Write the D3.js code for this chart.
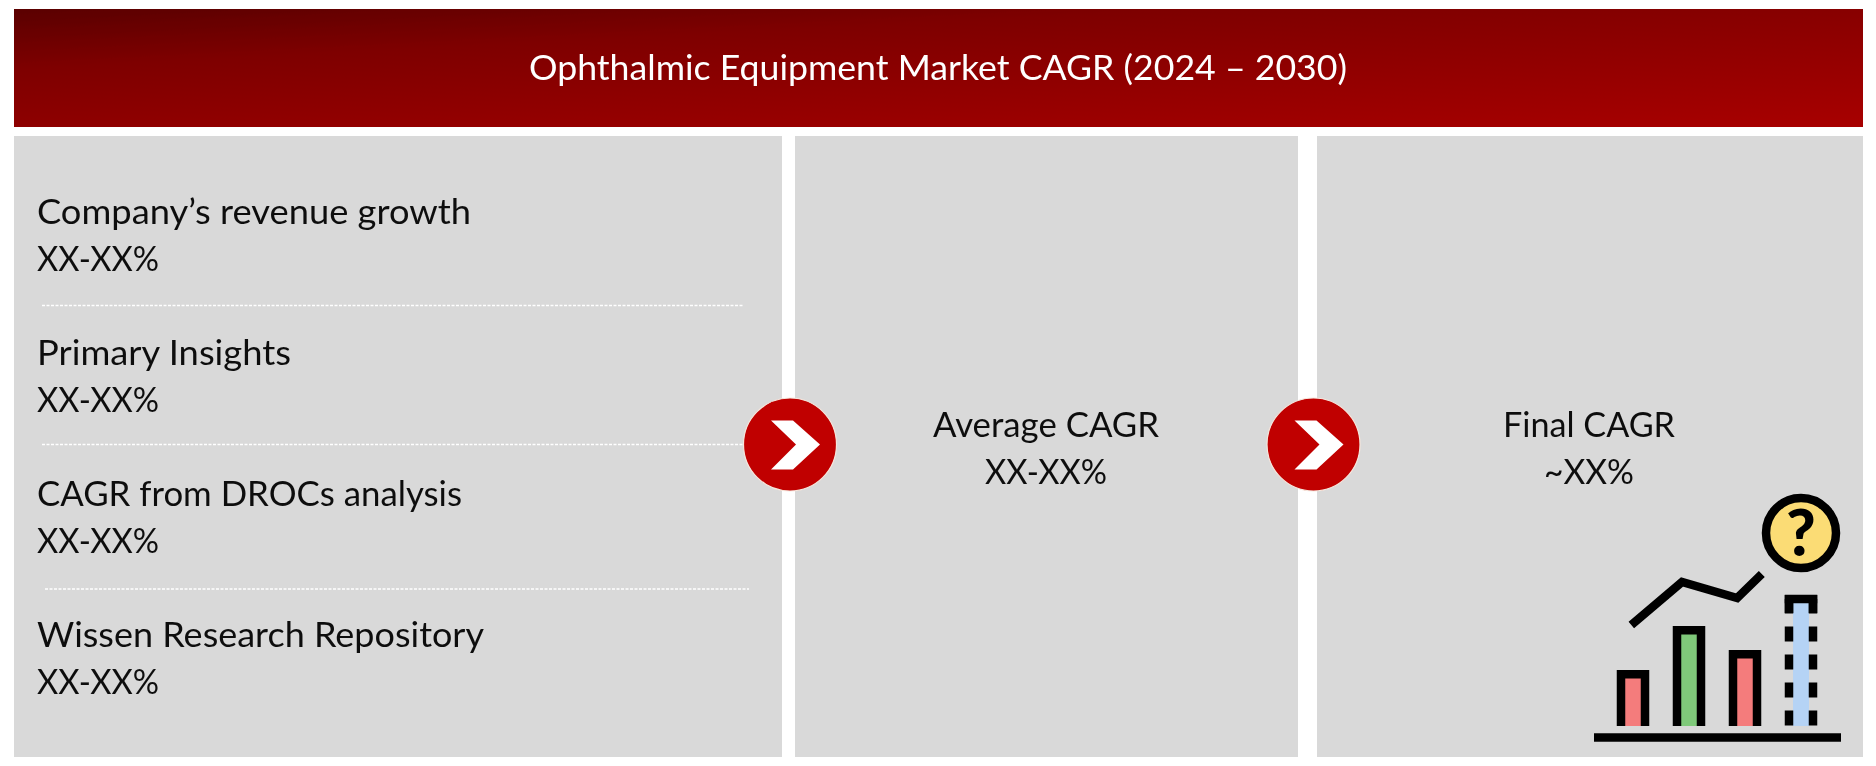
<!DOCTYPE html>
<html><head><meta charset="utf-8">
<script src="https://cdn.jsdelivr.net/npm/d3@7"></script>
<style>html,body{margin:0;padding:0;background:#fff}svg{display:block}text{font-family:Lato,"Open Sans",sans-serif}</style>
</head><body><div id="chart"></div>
<script>
const titleText = "Ophthalmic Equipment Market CAGR (2024 – 2030)";
const sources = ["Company’s revenue growth","Primary Insights","CAGR from DROCs analysis","Wissen Research Repository"];
const sourceValues = ["XX-XX%","XX-XX%","XX-XX%","XX-XX%"];
const stepLabels = ["Average CAGR","Final CAGR"];
const stepValues = ["XX-XX%","~XX%"];
const iconBarValues = [28,50,38,65.5];
const iconBarFills = ["#f47c7c","#7fc97a","#f47c7c"];
const trendIndex = [-0.03,0.875,1.86,2.3];
const trendValues = [50.5,72,64,76];

const W=1876,H=766;
const svg=d3.select("#chart").append("svg").attr("width",W).attr("height",H);
const defs=svg.append("defs");
const grad=defs.append("linearGradient").attr("id","hdr2").attr("gradientUnits","userSpaceOnUse")
  .attr("x1",14).attr("y1",9).attr("x2",25).attr("y2",223);
[["0%","#5a0000"],["28%","#7e0000"],["100%","#a80000"]].forEach(s=>grad.append("stop").attr("offset",s[0]).attr("stop-color",s[1]));
const blur=defs.append("filter").attr("id","soft").attr("x","-5%").attr("y","-5%").attr("width","110%").attr("height","110%");
blur.append("feGaussianBlur").attr("stdDeviation",0.7);

const root=svg.append("g").attr("filter","url(#soft)");
const FS=34;
// header
root.append("rect").attr("x",14).attr("y",9).attr("width",1849).attr("height",118).attr("fill","url(#hdr2)");
root.append("text").attr("x",938).attr("y",80).attr("text-anchor","middle").attr("fill","#fff").attr("font-size",FS)
  .attr("textLength",818).attr("lengthAdjust","spacingAndGlyphs").text(titleText);

// panels
const panelEdges=[[14,782],[795,1298],[1317,1863]];
root.selectAll("rect.p").data(panelEdges).join("rect").attr("class","p")
  .attr("x",d=>d[0]).attr("y",136).attr("width",d=>d[1]-d[0]).attr("height",621).attr("fill","#d9d9d9");

// source rows
const rowY=d3.scalePoint().domain(d3.range(sources.length)).range([224,647]);
const sourceFit=[434,254,425,447];
const tg=root.append("g").attr("fill","#111").attr("font-size",FS);
tg.selectAll("text.s").data(sources).join("text").attr("class","s").attr("x",37).attr("y",(d,i)=>rowY(i)).attr("textLength",(d,i)=>sourceFit[i]).attr("lengthAdjust","spacingAndGlyphs").text(d=>d);
tg.selectAll("text.v").data(sourceValues).join("text").attr("class","v").attr("x",37).attr("y",(d,i)=>rowY(i)+47).attr("textLength",122).attr("lengthAdjust","spacingAndGlyphs").text(d=>d);

// dividers
const dividerSpans=[[42,744,305.5],[42,745,444.5],[45,749,589]];
root.selectAll("line.d").data(dividerSpans).join("line").attr("class","d")
  .attr("x1",d=>d[0]).attr("x2",d=>d[1]).attr("y1",d=>d[2]).attr("y2",d=>d[2])
  .attr("stroke","#fff").attr("stroke-width",1.3).attr("stroke-dasharray","3 1.5");

// step texts
const stepX=[1046,1589], stepFit=[226,172], stepValFit=[122,90];
tg.selectAll("text.l").data(stepLabels).join("text").attr("class","l").attr("text-anchor","middle").attr("x",(d,i)=>stepX[i]).attr("y",437).attr("textLength",(d,i)=>stepFit[i]).attr("lengthAdjust","spacingAndGlyphs").text(d=>d);
tg.selectAll("text.w").data(stepValues).join("text").attr("class","w").attr("text-anchor","middle").attr("x",(d,i)=>stepX[i]).attr("y",484).attr("textLength",(d,i)=>stepValFit[i]).attr("lengthAdjust","spacingAndGlyphs").text(d=>d);

// arrow badges
const badges=[790,1313.5];
const bg=root.selectAll("g.b").data(badges).join("g").attr("class","b").attr("transform",d=>`translate(${d},444.5)`);
bg.append("circle").attr("r",46.5).attr("fill","#c00000").attr("stroke","#f6e6dc").attr("stroke-width",1.2);
bg.append("path").attr("d",d3.line()([[-19,-24],[3,-24],[30,0],[3,25],[-19,25],[6,0]])+"Z").attr("fill","#fff");

// icon
const iconY=d3.scaleLinear().domain([0,100]).range([726,526]);
const iconX=d3.scaleLinear().domain([0,3]).range([1633,1801]);
const ic=root.append("g");
const bw=24,sw=8.5;
iconBarValues.forEach((v,i)=>{
  const x=iconX(i);
  if(i<3){
    ic.append("rect").attr("x",x-bw/2).attr("y",iconY(v)).attr("width",bw).attr("height",726-iconY(v)).attr("fill",iconBarFills[i]);
    const p=d3.path();p.moveTo(x-bw/2,726);p.lineTo(x-bw/2,iconY(v)+sw/2);p.lineTo(x+bw/2,iconY(v)+sw/2);p.lineTo(x+bw/2,726);
    ic.append("path").attr("d",p.toString()).attr("fill","none").attr("stroke","#000").attr("stroke-width",sw);
  } else {
    ic.append("rect").attr("x",x-8).attr("y",iconY(v)).attr("width",16).attr("height",726-iconY(v)).attr("fill","#b5d3f5");
    [-1,1].forEach(s=>{
      ic.append("line").attr("x1",x+s*bw/2).attr("x2",x+s*bw/2).attr("y1",725.5).attr("y2",iconY(v)+4)
        .attr("stroke","#000").attr("stroke-width",sw).attr("stroke-dasharray","15 13");
      ic.append("line").attr("x1",x+s*bw/2).attr("x2",x+s*bw/2).attr("y1",iconY(v)).attr("y2",613).attr("stroke","#000").attr("stroke-width",sw);
    });
    ic.append("line").attr("x1",x-bw/2-sw/2).attr("x2",x+bw/2+sw/2).attr("y1",iconY(v)+4).attr("y2",iconY(v)+4).attr("stroke","#000").attr("stroke-width",sw);
  }
});
ic.append("line").attr("x1",1594).attr("x2",1841).attr("y1",737.5).attr("y2",737.5).attr("stroke","#000").attr("stroke-width",8.5);
ic.append("path").attr("d",d3.line().x(d=>iconX(d[0])).y(d=>iconY(d[1]))(trendIndex.map((t,i)=>[t,trendValues[i]])))
  .attr("fill","none").attr("stroke","#000").attr("stroke-width",8.5);
ic.append("circle").attr("cx",1801).attr("cy",533).attr("r",35).attr("fill","#fbdc75").attr("stroke","#000").attr("stroke-width",8.5);
ic.append("text").attr("x",1801).attr("y",556).attr("text-anchor","middle").attr("font-size",64).attr("font-weight",900).attr("fill","#000").text("?");
</script></body></html>
